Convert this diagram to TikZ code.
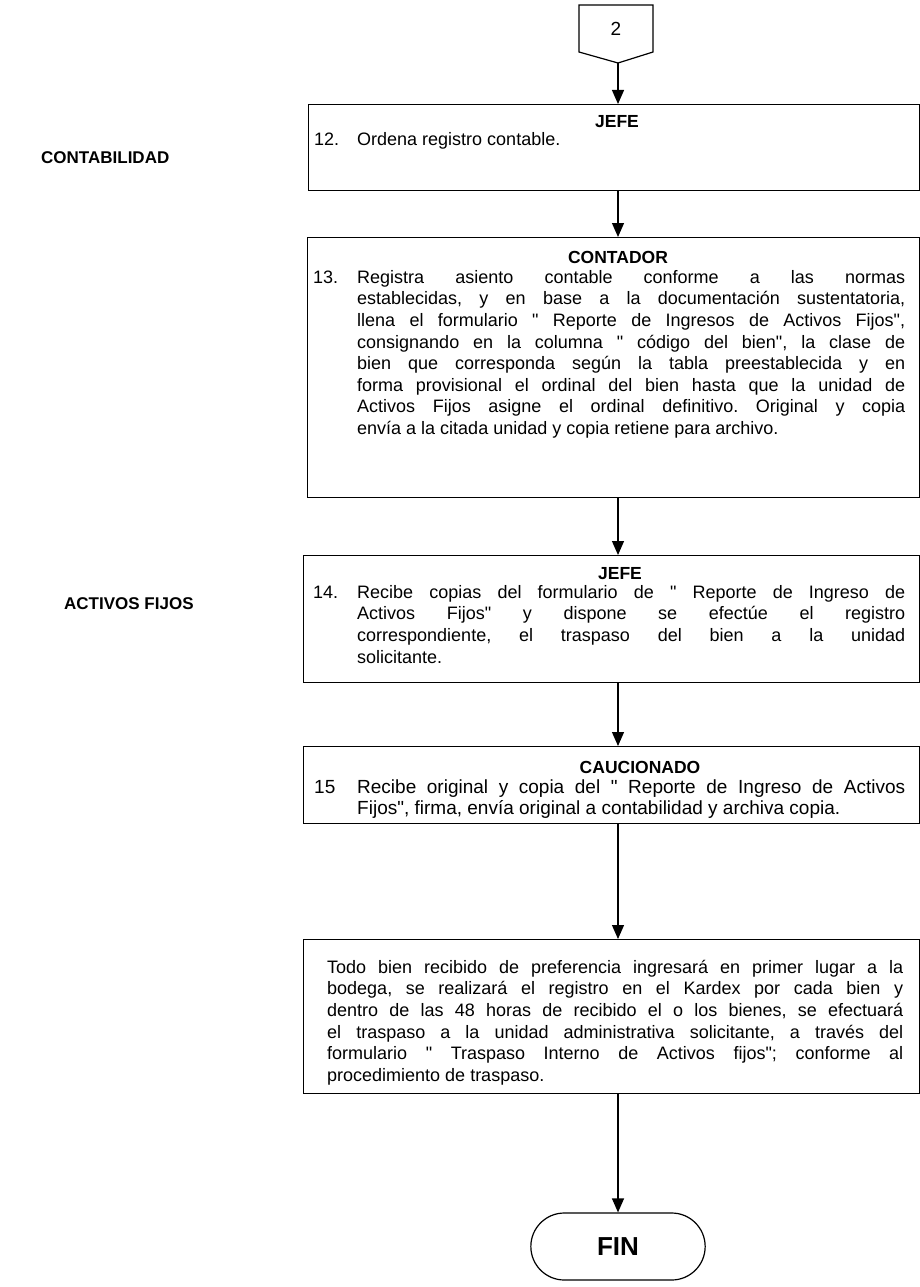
\documentclass[tikz,border=0pt]{standalone}
\usepackage{fontspec}
\setmainfont{Liberation Sans}[Ligatures=TeXOff]
\usetikzlibrary{arrows.meta,shapes.misc}

\begin{document}
\frenchspacing
\begin{tikzpicture}[x=1pt,y=1pt,
  box/.style={draw, line width=1.2pt, anchor=north west, inner sep=0pt},
  head/.style={font=\fontsize{17.5}{20}\selectfont\bfseries, inner sep=0pt},
  lane/.style={font=\fontsize{17}{20}\selectfont\bfseries, inner sep=0pt, anchor=west},
  num/.style={font=\fontsize{18}{21.6}\selectfont, inner sep=0pt, anchor=north west},
  body/.style={font=\fontsize{18}{21.6}\selectfont, inner sep=0pt, anchor=north west, align=justify},
  big/.style={font=\fontsize{19}{21.6}\selectfont},
  arr/.style={-{Triangle[length=14pt,width=12pt]}, line width=1.2pt},
  term/.style={draw, line width=1.2pt, rounded rectangle, minimum width=181pt, minimum height=67pt, font=\fontsize{26}{30}\selectfont\bfseries}
]
\useasboundingbox (0,0) rectangle (920,-1287);

% off-page connector 2
\draw[line width=1.2pt] (579,-5) -- (653,-5) -- (653,-52) -- (618,-63) -- (579,-52) -- cycle;
\node[font=\fontsize{19}{20}\selectfont, inner sep=0pt] (c2) at (616,-29) {2};
\coordinate (c2tip) at (618,-63);

% lane labels
\node[lane] (lcont) at (41,-158) {CONTABILIDAD};
\node[lane] (lact) at (64,-604) {ACTIVOS FIJOS};

% step 12
\node[box, minimum width=611pt, minimum height=86pt] (b1) at (308,-104) {};
\node[head] (h1) at (617,-122) {JEFE};
\node[num] (n1) at (314,-130) {\strut 12.};
\node[body, text width=548pt] (t1) at (357,-130) {\strut Ordena registro contable.};

% step 13
\node[box, minimum width=612pt, minimum height=260pt] (b2) at (307,-237) {};
\node[head] (h2) at (618,-257) {CONTADOR};
\node[num] (n2) at (313,-268) {\strut 13.};
\node[body, text width=548pt] (t2) at (357,-268) {\strut Registra asiento contable conforme a las normas\linebreak
establecidas, y en base a la documentación sustentatoria,\linebreak
llena el formulario " Reporte de Ingresos de Activos Fijos",\linebreak
consignando en la columna " código del bien", la clase de\linebreak
bien que corresponda según la tabla preestablecida y en\linebreak
forma provisional el ordinal del bien hasta que la unidad de\linebreak
Activos Fijos asigne el ordinal definitivo. Original y copia\linebreak
envía a la citada unidad y copia retiene para archivo.};

% step 14
\node[box, minimum width=616pt, minimum height=127pt] (b3) at (303,-555) {};
\node[head] (h3) at (620,-574) {JEFE};
\node[num] (n3) at (313,-583) {\strut 14.};
\node[body, text width=548pt] (t3) at (357,-583) {\strut Recibe copias del formulario de " Reporte de Ingreso de\linebreak
Activos Fijos" y dispone se efectúe el registro\linebreak
correspondiente, el traspaso del bien a la unidad\linebreak
solicitante.};

% step 15
\node[box, minimum width=616pt, minimum height=77pt] (b4) at (303,-746) {};
\node[head] (h4) at (640,-767) {CAUCIONADO};
\node[num, big] (n4) at (314,-778) {\strut 15};
\node[body, big, text width=548pt] (t4) at (357,-778) {\strut Recibe original y copia del " Reporte de Ingreso de Activos\linebreak
Fijos", firma, envía original a contabilidad y archiva copia.};

% closing note
\node[box, minimum width=616pt, minimum height=154pt] (b5) at (303,-939) {};
\node[body, text width=576pt] (t5) at (327,-958) {\strut Todo bien recibido de preferencia ingresará en primer lugar a la\linebreak
bodega, se realizará el registro en el Kardex por cada bien y\linebreak
dentro de las 48 horas de recibido el o los bienes, se efectuará\linebreak
el traspaso a la unidad administrativa solicitante, a través del\linebreak
formulario " Traspaso Interno de Activos fijos"; conforme al\linebreak
procedimiento de traspaso.};

% terminator
\node[term] (fin) at (618,-1246.5) {FIN};

% flow
\draw[arr] (c2tip) -- (c2tip |- b1.north);
\draw[arr] (b1.south -| c2tip) -- (b2.north -| c2tip);
\draw[arr] (b2.south -| c2tip) -- (b3.north -| c2tip);
\draw[arr] (b3.south -| c2tip) -- (b4.north -| c2tip);
\draw[arr] (b4.south -| c2tip) -- (b5.north -| c2tip);
\draw[arr] (b5.south -| c2tip) -- (fin.north);
\end{tikzpicture}
\end{document}
